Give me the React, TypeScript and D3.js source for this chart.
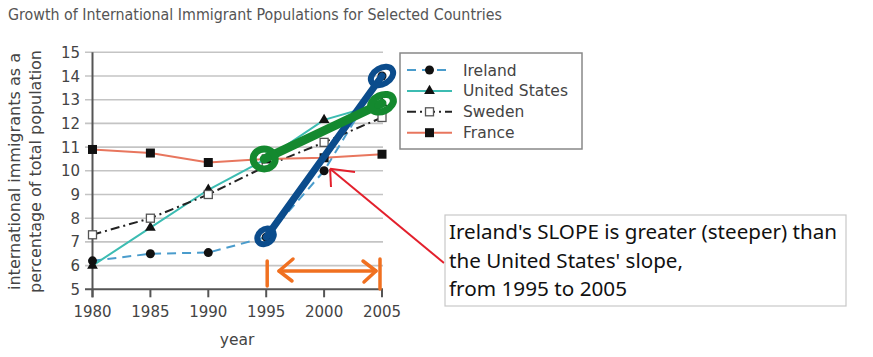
import React from "react";
import * as d3 from "d3";

const years = [1980, 1985, 1990, 1995, 2000, 2005];
const ireland = [6.2, 6.5, 6.55, 7.2, 10.0, 14.0];
const unitedStates = [6.0, 7.6, 9.2, 10.5, 12.15, 12.85];
const sweden = [7.3, 8.0, 9.0, 10.2, 11.2, 12.25];
const france = [10.9, 10.75, 10.35, 10.5, 10.55, 10.7];
const yTicks = [5, 6, 7, 8, 9, 10, 11, 12, 13, 14, 15];
const seriesNames = ["Ireland", "United States", "Sweden", "France"];
const noteLines = [
  "Ireland's SLOPE is greater (steeper) than",
  "the United States' slope,",
  "from 1995 to 2005",
];
const noteWidths = [388, 234, 178];

const W = 873, H = 357;
const x = d3.scaleLinear().domain([1980, 2005]).range([92.5, 382]);
const y = d3.scaleLinear().domain([5, 15]).range([289.3, 52.3]);

const series = [
  { name: seriesNames[0], values: ireland, color: "#4a9ccc", dash: "9,6", marker: "circle" },
  { name: seriesNames[1], values: unitedStates, color: "#3cbcb2", dash: "", marker: "triangle" },
  { name: seriesNames[2], values: sweden, color: "#222", dash: "9,4,2,4", marker: "square-open" },
  { name: seriesNames[3], values: france, color: "#e8765e", dash: "", marker: "square" },
];

function Marker({ type, cx, cy }: { type: string; cx: number; cy: number }) {
  if (type === "circle") return <circle cx={cx} cy={cy} r={4.5} fill="#111" />;
  if (type === "triangle") {
    const p = d3.symbol(d3.symbolTriangle, 50)();
    return <path d={p || ""} transform={`translate(${cx},${cy})`} fill="#111" />;
  }
  if (type === "square-open")
    return <rect x={cx - 4} y={cy - 4} width={8} height={8} fill="#fff" stroke="#555" strokeWidth={1.3} />;
  return <rect x={cx - 4.5} y={cy - 4.5} width={9} height={9} fill="#111" />;
}

export default function App() {
  const line = d3.line<number>().x((_, i) => x(years[i])).y((v) => y(v));
  const tickFont = "DejaVu Sans, Verdana, sans-serif";
  const blue = "#0b4c8c", green = "#14892f", orange = "#f07020";
  const b0 = [x(1995), y(ireland[3])], b1 = [x(2005), y(ireland[5])];
  const g0 = [x(1995) - 2, y(unitedStates[3])], g1 = [x(2005), y(unitedStates[5])];
  const tip = [x(2000) + 6, y(ireland[4]) - 2];
  return (
    <svg width={W} height={H} style={{ position: "absolute", left: 0, top: 0, background: "#fff" }}>
      <text x={8} y={20} fontFamily={tickFont} fontSize={15} fill="#555" textLength={494} lengthAdjust="spacingAndGlyphs">
        Growth of International Immigrant Populations for Selected Countries
      </text>
      {yTicks.map((t) => (
        <line key={t} x1={85} x2={383} y1={y(t)} y2={y(t)} stroke={t === 5 ? "#555" : "#c4c4c4"} strokeWidth={t === 5 ? 2 : 1.6} />
      ))}
      {yTicks.map((t) => (
        <text key={"l" + t} x={80} y={y(t) + 5.5} textAnchor="end" fontFamily={tickFont} fontSize={15} fill="#444">
          {t}
        </text>
      ))}
      <line x1={x(1980)} x2={x(1980)} y1={y(15)} y2={y(5) + 8} stroke="#555" strokeWidth={2} />
      {years.map((yr) => (
        <g key={yr}>
          <line x1={x(yr)} x2={x(yr)} y1={y(5)} y2={y(5) + 8} stroke="#555" strokeWidth={2} />
          <text x={x(yr)} y={317} textAnchor="middle" fontFamily={tickFont} fontSize={15} fill="#444">
            {yr}
          </text>
        </g>
      ))}
      <text x={237} y={345} textAnchor="middle" fontFamily={tickFont} fontSize={15.5} fill="#444">year</text>
      <text transform="translate(20,290) rotate(-90)" fontFamily={tickFont} fontSize={16} fill="#444" textLength={237} lengthAdjust="spacingAndGlyphs">
        international immigrants as a
      </text>
      <text transform="translate(41,293) rotate(-90)" fontFamily={tickFont} fontSize={16} fill="#444" textLength={243} lengthAdjust="spacingAndGlyphs">
        percentage of total population
      </text>
      {series.map((s) => (
        <path key={s.name} d={line(s.values) || ""} fill="none" stroke={s.color} strokeWidth={2} strokeDasharray={s.dash} />
      ))}
      {series.map((s) =>
        s.values.map((v, i) => <Marker key={s.name + i} type={s.marker} cx={x(years[i])} cy={y(v)} />)
      )}
      <rect x={400} y={53} width={182} height={96} fill="#fff" stroke="#888" strokeWidth={1.5} />
      {series.map((s, i) => {
        const ly = 70 + i * 20.9;
        return (
          <g key={"lg" + s.name}>
            <line x1={407} x2={452} y1={ly} y2={ly} stroke={s.color} strokeWidth={2} strokeDasharray={s.dash} />
            <Marker type={s.marker} cx={429.5} cy={ly} />
            <text x={463} y={ly + 5.5} fontFamily={tickFont} fontSize={15.5} fill="#444">{s.name}</text>
          </g>
        );
      })}
      {/* blue */}
      <line x1={b0[0]} y1={b0[1]} x2={b1[0]} y2={b1[1]} stroke={blue} strokeWidth={7} strokeLinecap="round" />
      <ellipse cx={b0[0]} cy={b0[1] - 1} rx={9} ry={7} transform={`rotate(-40 ${b0[0]} ${b0[1]})`} fill="none" stroke={blue} strokeWidth={6} />
      <ellipse cx={b1[0]} cy={b1[1]} rx={12} ry={8} transform={`rotate(-30 ${b1[0]} ${b1[1]})`} fill="none" stroke={blue} strokeWidth={6} />
      {/* green */}
      <line x1={g0[0]} y1={g0[1]} x2={g1[0]} y2={g1[1]} stroke={green} strokeWidth={9} strokeLinecap="round" />
      <ellipse cx={g0[0]} cy={g0[1]} rx={11} ry={10} fill="none" stroke={green} strokeWidth={7} />
      <ellipse cx={g1[0]} cy={g1[1]} rx={12} ry={8} transform={`rotate(-25 ${g1[0]} ${g1[1]})`} fill="none" stroke={green} strokeWidth={7} />
      {/* orange double arrow */}
      <g stroke={orange} strokeWidth={3.5} fill="none" strokeLinecap="round" strokeLinejoin="round">
        <line x1={x(1995) + 1} x2={x(1995) + 1} y1={261} y2={286} />
        <line x1={x(2005) - 2} x2={x(2005) - 2} y1={259} y2={289} />
        <line x1={279} x2={376} y1={271} y2={271} />
        <polyline points="293,259 279,271 292,281" />
        <polyline points="363,261 376,271 364,282" />
      </g>
      {/* red arrow */}
      <g stroke="#e3202c" strokeWidth={2} fill="none">
        <line x1={tip[0]} y1={tip[1]} x2={444} y2={263} />
        <line x1={tip[0]} y1={tip[1]} x2={355} y2={172} />
        <line x1={tip[0]} y1={tip[1]} x2={331} y2={187} />
      </g>
      <rect x={445} y={215} width={401} height={91} fill="#fff" stroke="#c8c8c8" strokeWidth={1.2} />
      {noteLines.map((t, i) => (
        <text key={i} x={449} y={239 + i * 28.5} fontFamily="Noto Sans, Open Sans, sans-serif" fontSize={19.5} fill="#111"
          textLength={noteWidths[i]} lengthAdjust="spacingAndGlyphs">
          {t}
        </text>
      ))}
    </svg>
  );
}
